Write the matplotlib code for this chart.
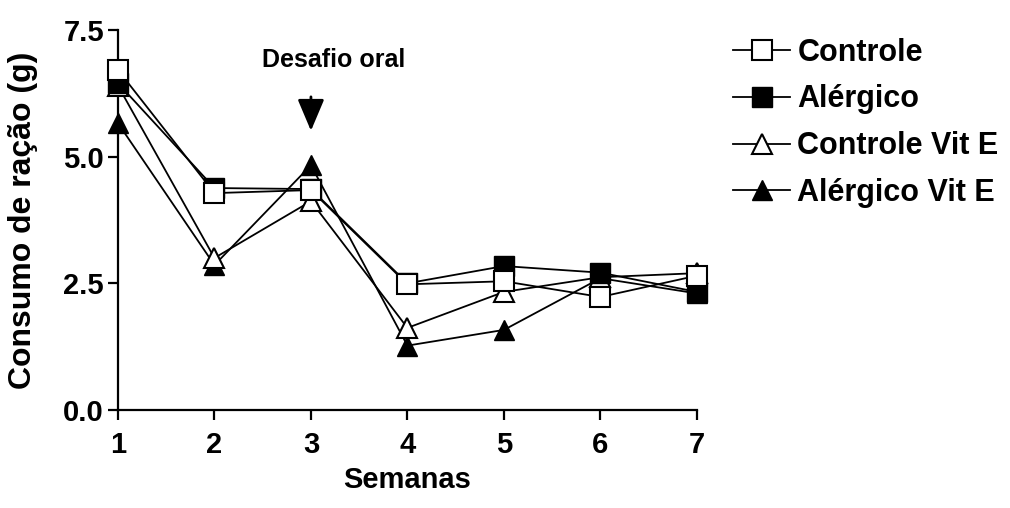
import matplotlib
matplotlib.use("Agg")
import matplotlib.pyplot as plt

plt.rcParams['font.family'] = ['Liberation Sans', 'DejaVu Sans']
plt.rcParams['font.weight'] = 'bold'

# consumo semanal de ração (g)
semanas = [1, 2, 3, 4, 5, 6, 7]
controle = [6.71, 4.28, 4.34, 2.48, 2.54, 2.23, 2.65]
alergico = [6.45, 4.38, 4.36, 2.50, 2.84, 2.71, 2.33]
controle_vit_e = [6.40, 3.00, 4.12, 1.62, 2.33, 2.62, 2.70]
alergico_vit_e = [5.66, 2.86, 4.83, 1.27, 1.58, 2.60, 2.30]

fig = plt.figure(figsize=(10.1, 5.08), dpi=100)
ax = fig.add_axes([0.1168, 0.193, 0.5732, 0.748])

ms = 14
lw = 1.3
ax.plot(semanas, alergico_vit_e, color='k', lw=lw, marker='^', ms=ms,
        mfc='k', mec='k', label='Alérgico Vit E', zorder=3, clip_on=False)
ax.plot(semanas, controle_vit_e, color='k', lw=lw, marker='^', ms=ms,
        mfc='white', mec='k', mew=1.5, label='Controle Vit E', zorder=4,
        clip_on=False)
ax.plot(semanas, alergico, color='k', lw=lw, marker='s', ms=ms,
        mfc='k', mec='k', label='Alérgico', zorder=5, clip_on=False)
ax.plot(semanas, controle, color='k', lw=lw, marker='s', ms=ms,
        mfc='white', mec='k', mew=1.5, label='Controle', zorder=6,
        clip_on=False)

ax.set_xlim(1, 7)
ax.set_ylim(0, 7.5)
ax.set_xticks(semanas)
ax.set_yticks([0.0, 2.5, 5.0, 7.5])
ax.set_yticklabels(['0.0', '2.5', '5.0', '7.5'])
for s in ['top', 'right']:
    ax.spines[s].set_visible(False)
for s in ['left', 'bottom']:
    ax.spines[s].set_linewidth(1.6)
ax.tick_params(direction='out', length=7, width=1.6, labelsize=21)
ax.tick_params(axis='x', pad=8)
ax.tick_params(axis='y', pad=3)
for lb in ax.get_xticklabels() + ax.get_yticklabels():
    lb.set_fontweight('bold')

ax.set_xlabel('Semanas', fontsize=21, fontweight='bold', labelpad=5)
ax.set_ylabel('Consumo de ração (g)', fontsize=23, fontweight='bold')
ax.yaxis.set_label_coords(-0.138, 0.5)

# seta do desafio oral na semana 3
ax.annotate('', xy=(3, 5.51), xytext=(3, 6.18),
            arrowprops=dict(arrowstyle='-|>,head_width=0.41,head_length=0.97',
                            mutation_scale=20, color='k', lw=2.0,
                            shrinkA=0, shrinkB=0))
ax.text(3.24, 6.91, 'Desafio oral', fontsize=18, fontweight='bold',
        ha='center', va='center')

h, l = ax.get_legend_handles_labels()
order = [3, 2, 1, 0]
fig.legend([h[i] for i in order], [l[i] for i in order],
           loc='upper left', bbox_to_anchor=(0.699, 0.98), frameon=False,
           handlelength=1.86, handletextpad=0.23, labelspacing=0.55,
           prop={'weight': 'bold', 'size': 22})

fig.savefig('out.png', dpi=100)
